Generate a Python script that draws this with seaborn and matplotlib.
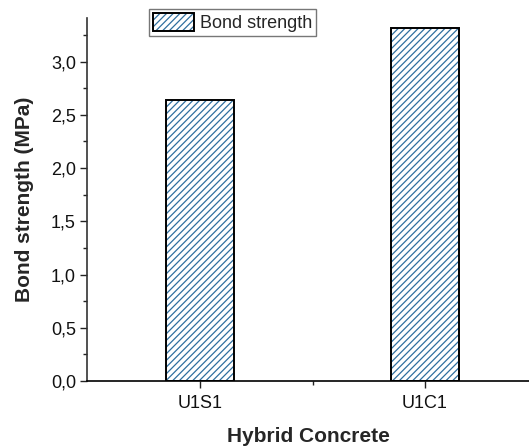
import matplotlib
matplotlib.use("Agg")
import matplotlib.pyplot as plt
from matplotlib.patches import Patch, Rectangle
from matplotlib.legend_handler import HandlerBase
from matplotlib.ticker import FuncFormatter, MultipleLocator
import seaborn as sns
import pandas as pd

mixes = ["U1S1", "U1C1"]
bond_strength = [2.64, 3.32]

HATCH_BLUE = "#2f6f9f"
HATCH = "/////"

sns.set_theme(style="ticks")
plt.rcParams["font.family"] = ["Liberation Sans", "DejaVu Sans"]
plt.rcParams["hatch.linewidth"] = 0.9

df = pd.DataFrame({"mix": mixes, "strength": bond_strength})

fig = plt.figure(figsize=(5.29, 4.47), dpi=100)
ax = fig.add_axes([0.1645, 0.1477, 0.8355, 0.812])

sns.barplot(data=df, x="mix", y="strength", ax=ax, width=0.30,
            color="white", saturation=1, linewidth=0)

# hatch takes the patch edge colour, so the bars carry a blue hatch with no
# edge, and a black outline is laid on top of each one
for bar in list(ax.patches):
    bar.set_facecolor("white")
    bar.set_edgecolor(HATCH_BLUE)
    bar.set_linewidth(0)
    bar.set_hatch(HATCH)
    ax.add_patch(Rectangle(bar.get_xy(), bar.get_width(), bar.get_height(),
                           facecolor="none", edgecolor="black", linewidth=1.4,
                           zorder=bar.get_zorder() + 0.1))

ax.set_xlim(-0.502, 1.462)
ax.set_ylim(0, 3.41)
ax.yaxis.set_major_locator(MultipleLocator(0.5))
ax.yaxis.set_minor_locator(MultipleLocator(0.25))
ax.yaxis.set_major_formatter(FuncFormatter(lambda v, p: f"{v:.1f}".replace(".", ",")))
ax.set_xticks([0, 1])
ax.set_xticks([0.5], minor=True)
ax.set_xticklabels(mixes)

ax.tick_params(axis="both", which="major", direction="out", length=5, width=1,
               labelsize=13, colors="#222222", labelcolor="#111111", pad=3)
ax.tick_params(axis="x", which="major", pad=5)
ax.tick_params(axis="both", which="minor", direction="out", length=3, width=1,
               colors="#222222")

for side in ["top", "right"]:
    ax.spines[side].set_visible(False)
ax.spines["left"].set_color("#333333")
ax.spines["bottom"].set_color("black")
ax.spines["left"].set_linewidth(1.2)
ax.spines["bottom"].set_linewidth(1.2)

ax.set_xlabel("Hybrid Concrete", fontsize=15, fontweight="bold", labelpad=11)
ax.set_ylabel("Bond strength (MPa)", fontsize=15, fontweight="bold", labelpad=12)


class HatchedBox(HandlerBase):
    def create_artists(self, legend, orig_handle, xdescent, ydescent,
                       width, height, fontsize, trans):
        fill = Rectangle((-xdescent, -ydescent), width, height, facecolor="white",
                         edgecolor=HATCH_BLUE, linewidth=0, hatch=HATCH,
                         transform=trans)
        edge = Rectangle((-xdescent, -ydescent), width, height, facecolor="none",
                         edgecolor="black", linewidth=1.4, transform=trans)
        return [fill, edge]


handle = Patch(facecolor="white", edgecolor="black")
leg = ax.legend([handle], ["Bond strength"], loc="upper left",
                bbox_to_anchor=(0.140, 1.025), fontsize=13, frameon=True,
                fancybox=False, borderpad=0.2, handlelength=2.3, handleheight=1.2,
                handletextpad=0.35, borderaxespad=0,
                handler_map={Patch: HatchedBox()})
leg.get_frame().set_edgecolor("#555555")
leg.get_frame().set_linewidth(1.0)

fig.savefig("out.png", dpi=100)
